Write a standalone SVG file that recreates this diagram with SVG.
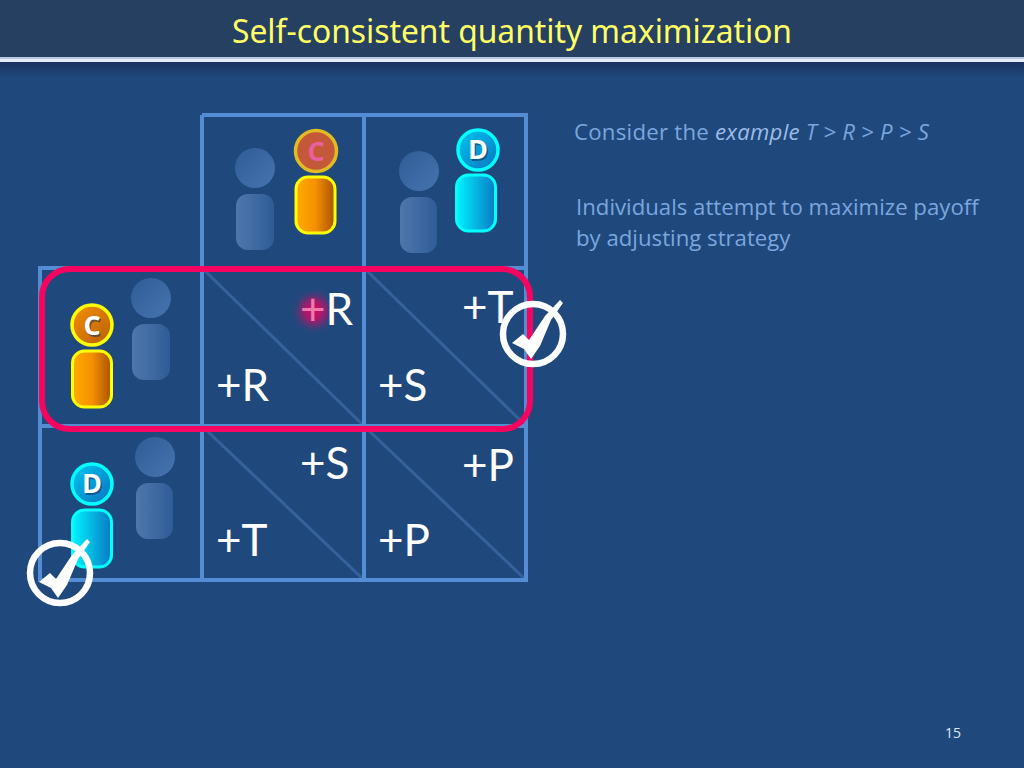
<svg xmlns="http://www.w3.org/2000/svg" width="1024" height="768" viewBox="0 0 1024 768">
<defs>
<linearGradient id="ghost" x1="0" x2="1" y1="0" y2="0"><stop offset="0" stop-color="#4f77ac"/><stop offset="1" stop-color="#2f5c97"/></linearGradient>
<linearGradient id="ghostHead" x1="0" x2="1" y1="0" y2="1"><stop offset="0" stop-color="#305c96"/><stop offset="1" stop-color="#4674ae"/></linearGradient>
<linearGradient id="orange" x1="0" x2="1" y1="0" y2="0"><stop offset="0" stop-color="#ffac00"/><stop offset="0.5" stop-color="#f59000"/><stop offset="1" stop-color="#a85200"/></linearGradient>
<linearGradient id="orangeHead" x1="0" x2="1" y1="0" y2="1"><stop offset="0" stop-color="#f59000"/><stop offset="1" stop-color="#b85e08"/></linearGradient>
<linearGradient id="cyan" x1="0" x2="1" y1="0" y2="0"><stop offset="0" stop-color="#00f4ff"/><stop offset="1" stop-color="#0a78c4"/></linearGradient>
<linearGradient id="cyanHead" x1="0" x2="1" y1="0" y2="1"><stop offset="0" stop-color="#00c8f0"/><stop offset="1" stop-color="#0a72c0"/></linearGradient>
<linearGradient id="under" x1="0" x2="0" y1="0" y2="1"><stop offset="0" stop-color="#1a3260"/><stop offset="1" stop-color="#1f497d"/></linearGradient>
<filter id="glow" x="-100%" y="-100%" width="300%" height="300%"><feGaussianBlur stdDeviation="5"/></filter>
<g id="check">
<circle r="30" fill="none" stroke="#fff" stroke-width="6.500"/>
<path d="M-21 9 L-10 0 L-4 6 L12 -18 L27 -34 L30 -31 L18 -14 L7 12 L-2 25 L-9 15 Z" fill="#fff"/>
</g>
</defs>
<style>
.grid{stroke:#548dd4;stroke-width:4;fill:none}
.diag{stroke:#36629c;stroke-width:3;fill:none}
.pay{font-family:"Lato","Open Sans",sans-serif;font-size:44px;fill:#fff}
.body{font-family:"Open Sans","Noto Sans",sans-serif;font-size:22.200px;fill:#7ba6de}
.ltr{font-family:"Open Sans","Noto Sans",sans-serif;font-size:27px;font-weight:700;text-anchor:middle;fill:#fff}
.sh{fill:#10305a;opacity:.55}
.ghostB{fill:url(#ghost)}
.ghostH{fill:url(#ghostHead)}
.oB{fill:url(#orange);stroke:#ffff00;stroke-width:3}
.oH{fill:url(#orangeHead);stroke:#ffff00;stroke-width:3.500}
.cB{fill:url(#cyan);stroke:#00ffff;stroke-width:3}
.cH{fill:url(#cyanHead);stroke:#00ffff;stroke-width:3.500}
</style>
<rect width="1024" height="768" fill="#1f497d"/>
<g id="header">
<rect width="1024" height="58" fill="#254061"/>
<rect y="57" width="1024" height="2" fill="#b8c9e4"/>
<rect y="59" width="1024" height="3" fill="#e6edf8"/>
<rect y="62" width="1024" height="16" fill="url(#under)"/>
<text x="512" y="43" text-anchor="middle" font-family="'Noto Sans','Open Sans',sans-serif" font-size="33" fill="#ffff66" textLength="560" lengthAdjust="spacingAndGlyphs">Self-consistent quantity maximization</text>
</g>
<g id="connectors">
<path class="diag" d="M202 268L364 426M364 268L526 426M202 426L364 580M364 426L526 580"/>
<path class="grid" d="M202 115H526V580H40V268H526M40 426H526M202 115V580M364 115V580"/>
</g>
<g id="col-c">
<circle class="ghostH" cx="255" cy="168" r="20"/>
<rect class="ghostB" x="236" y="194" width="38" height="56" rx="12"/>
<rect class="oB" x="296" y="177" width="39" height="56" rx="12"/>
<circle cx="316" cy="151" r="20.500" fill="#c4593a" stroke="#e0bc22" stroke-width="3.500"/>
<text class="ltr" x="316" y="161" style="fill:#e8609e">C</text>
</g>
<g id="col-d">
<circle class="ghostH" cx="419" cy="171" r="20"/>
<rect class="ghostB" x="400" y="197" width="37" height="56" rx="12"/>
<rect class="cB" x="456.500" y="175" width="39" height="56" rx="12"/>
<circle class="cH" cx="478" cy="150" r="20"/>
<text class="ltr sh" x="479.500" y="160.500">D</text>
<text class="ltr" x="478" y="159">D</text>
</g>
<g id="row-c">
<circle class="ghostH" cx="151" cy="298" r="20"/>
<rect class="ghostB" x="132" y="324" width="38" height="56" rx="12"/>
<rect class="oB" x="72.500" y="351" width="39" height="56" rx="12"/>
<circle class="oH" cx="92" cy="325" r="20"/>
<text class="ltr sh" x="93.500" y="336.500">C</text>
<text class="ltr" x="92" y="335">C</text>
</g>
<g id="row-d">
<circle class="ghostH" cx="155" cy="457" r="20"/>
<rect class="ghostB" x="136" y="483" width="37" height="56" rx="12"/>
<rect class="cB" x="72.500" y="510" width="39" height="57" rx="12"/>
<circle class="cH" cx="92" cy="484" r="20"/>
<text class="ltr sh" x="93.500" y="494.500">D</text>
<text class="ltr" x="92" y="493">D</text>
</g>
<g id="payoffs">
<circle cx="314" cy="311" r="14" fill="#f6045f" opacity="0.75" filter="url(#glow)"/>
<text class="pay" x="300" y="325"><tspan fill="#f07ab0">+</tspan>R</text>
<text class="pay" x="462" y="323">+T</text>
<text class="pay" x="216" y="401">+R</text>
<text class="pay" x="378" y="401">+S</text>
<text class="pay" x="300" y="479">+S</text>
<text class="pay" x="462" y="481">+P</text>
<text class="pay" x="216" y="556">+T</text>
<text class="pay" x="378" y="556">+P</text>
</g>
<rect id="highlight" x="42" y="269" width="488" height="160" rx="28" fill="none" stroke="#f6045f" stroke-width="6"/>
<use id="check-row" href="#check" x="533" y="334"/>
<use id="check-d" href="#check" x="60" y="573"/>
<g id="notes">
<text class="body" x="574" y="140" textLength="355">Consider the <tspan font-style="italic" fill="#9dbce6">example</tspan><tspan font-style="italic"> T &gt; R &gt; P &gt; S</tspan></text>
<text class="body" x="576" y="215">Individuals attempt to maximize payoff</text>
<text class="body" x="576" y="246">by adjusting strategy</text>
</g>
<text id="page" x="945" y="738" font-family="'Open Sans','Noto Sans',sans-serif" font-size="14" fill="#dce6f4">15</text>
</svg>
